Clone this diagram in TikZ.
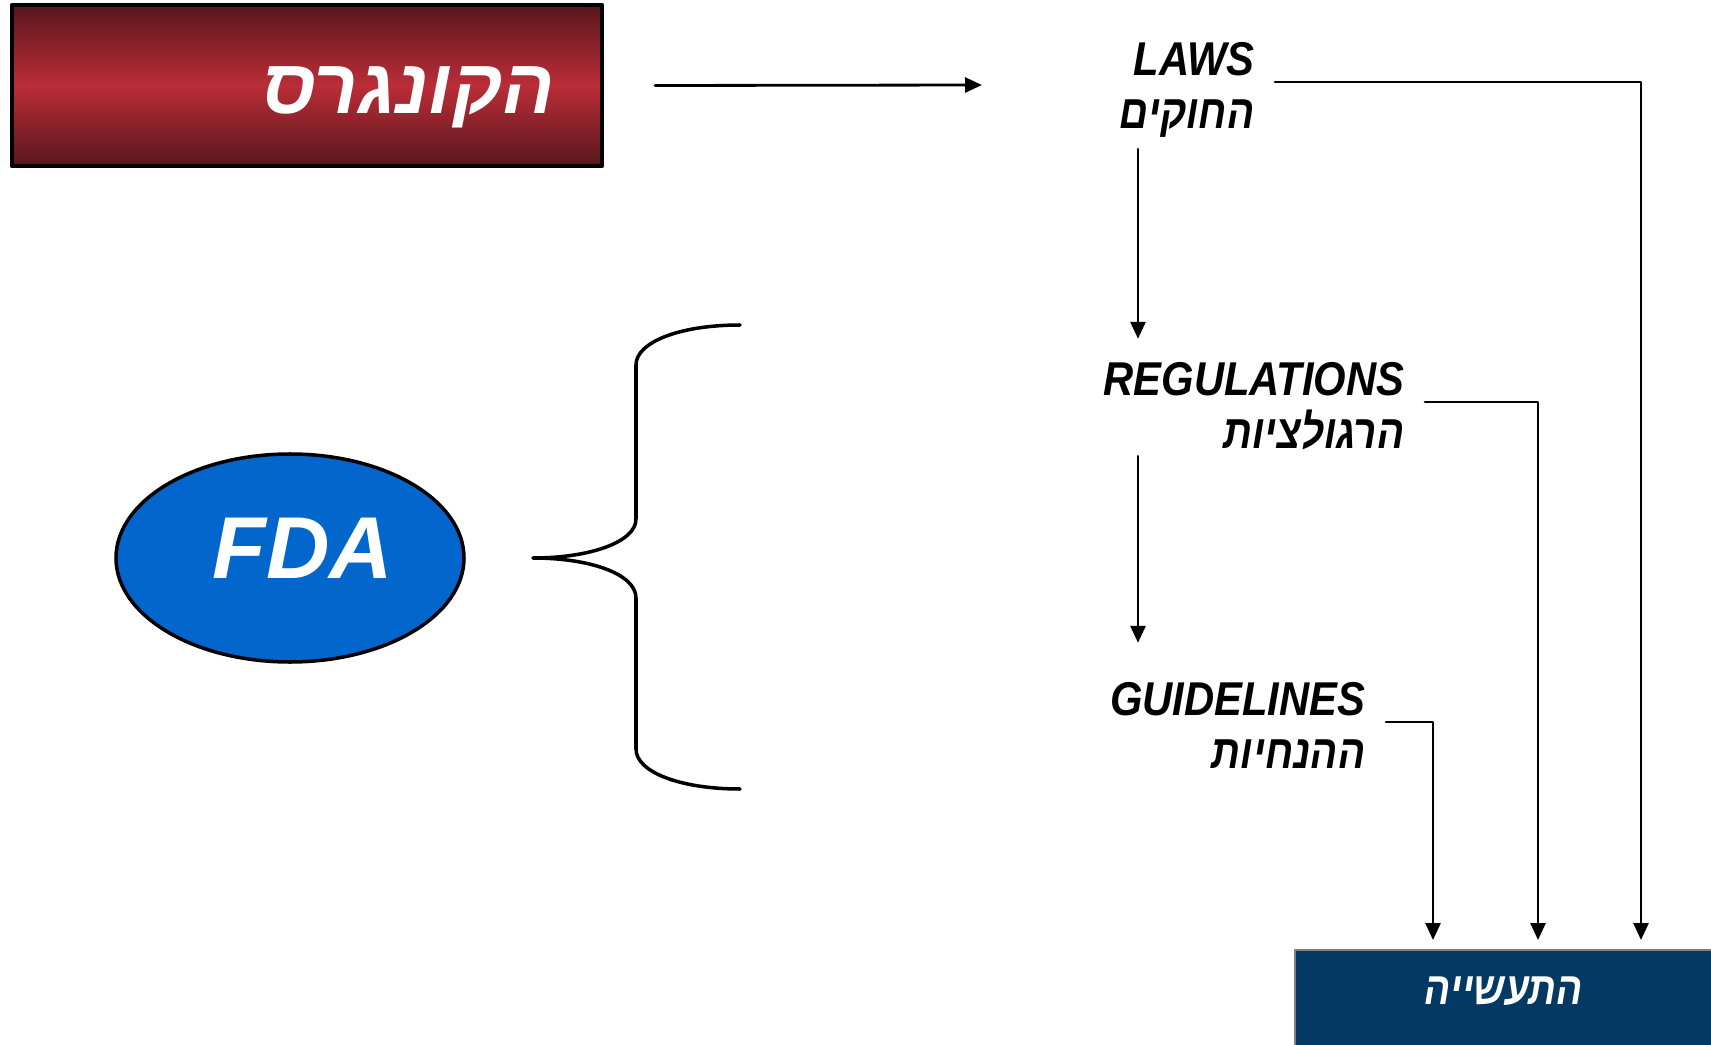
\documentclass[tikz,border=0pt]{standalone}
\usepackage{fontspec}
\setmainfont{Liberation Sans}
\newfontfamily\latinfont[FakeStretch=0.88]{Liberation Sans}
\newfontfamily\hebfont[Script=Hebrew]{Liberation Sans}
\newfontfamily\hebnarrow[Script=Hebrew, FakeStretch=0.85]{Liberation Sans}
\TeXXeTstate=1
\usetikzlibrary{arrows.meta,shapes.geometric,positioning}

\definecolor{congressred}{RGB}{186,45,56}
\definecolor{congressdark}{RGB}{88,22,27}
\definecolor{fdablue}{RGB}{3,102,204}
\definecolor{industrynavy}{RGB}{3,57,99}

\tikzset{
  level/.style={align=right, inner sep=0.2cm, text height=0.93cm, text depth=0pt,
    font=\latinfont\bfseries\itshape\fontsize{13.5}{15}\selectfont},
  feed/.style={->, line width=0.8pt},
}

\begin{document}
\begin{tikzpicture}[>={Triangle[length=0.17cm,width=0.15cm]}, line cap=round, line join=round]
	\useasboundingbox (0,0) rectangle (17.11,10.44);
	
	% --- Top left: the congress box and its arrow to the laws ---
	\node[draw=black, line width=1.2pt, top color=congressdark, bottom color=congressdark, middle color=congressred,
	minimum height=1.61cm, text width=4.96cm, inner xsep=0.47cm, align=right, text=white,
	text height=0.57cm, text depth=0pt,
	font=\hebfont\bfseries\itshape\fontsize{22}{24}\selectfont] (congress) at (3.07,9.585) {\beginR הקונגרס\endR};
	\coordinate (lawsin) at (9.82,9.59);
	\draw[feed] ([xshift=0.51cm]congress.east) -- (lawsin);
	
	% --- Right: laws, regulations, guidelines ---
	\node[level, anchor=east] (laws) at (12.75,9.62) {LAWS\\{\hebnarrow\beginR החוקים\endR}};
	\node[level, anchor=east] (regs) at (14.25,6.42) {REGULATIONS\\{\hebnarrow\beginR הרגולציות\endR}};
	\node[level, anchor=east] (guides) at (13.86,3.22) {GUIDELINES\\{\hebnarrow\beginR ההנחיות\endR}};
	
	% chain of arrows on the left side of the column
	\coordinate (stem) at (11.38,0);
	\draw[feed, shorten >=-0.04cm] (laws.south -| stem) -- (regs.north -| stem);
	\draw[feed, shorten <=-0.13cm, shorten >=0.12cm] (regs.south -| stem) -- (guides.north -| stem);
	
	% --- Bottom right: the industry box ---
	\node[fill=industrynavy, draw=black!50, line width=0.6pt, anchor=north west, minimum width=4.17cm,
	inner sep=0.2cm, text height=0.346cm, text depth=0.6cm, text=white,
	font=\hebnarrow\bfseries\itshape\fontsize{13}{16}\selectfont] (industry) at (12.94,0.95) {\beginR התעשייה\endR};
	
	% each level feeds the industry
	\coordinate (colL) at (16.41,0);
	\coordinate (colR) at (15.38,0);
	\coordinate (colG) at (14.33,0);
	\draw[feed, shorten >=0.09cm] (laws.east) -| (colL |- industry.north);
	\draw[feed, shorten >=0.09cm] (regs.east) -| (colR |- industry.north);
	\draw[feed, shorten >=0.09cm] (guides.east) -| (colG |- industry.north);
	
	% --- Left: FDA and its brace over the lower two levels ---
	\node[ellipse, draw=black, line width=1pt, fill=fdablue, minimum width=3.48cm, minimum height=2.08cm, inner sep=0,
	text height=0.4cm, text depth=0pt, text=white,
	font=\bfseries\itshape\fontsize{25}{28}\selectfont] (fda) at (2.90,4.86) {\hspace*{0.26cm}FDA};
	
	\draw[line width=1pt] (7.40,7.19) .. controls (6.80,7.19) and (6.36,7.02) .. (6.36,6.79) -- (6.36,5.25)
	.. controls (6.36,5.02) and (5.90,4.86) .. (5.33,4.86)
	.. controls (5.90,4.86) and (6.36,4.70) .. (6.36,4.46) -- (6.36,2.95)
	.. controls (6.36,2.72) and (6.80,2.55) .. (7.40,2.55);
	
\end{tikzpicture}
\end{document}
